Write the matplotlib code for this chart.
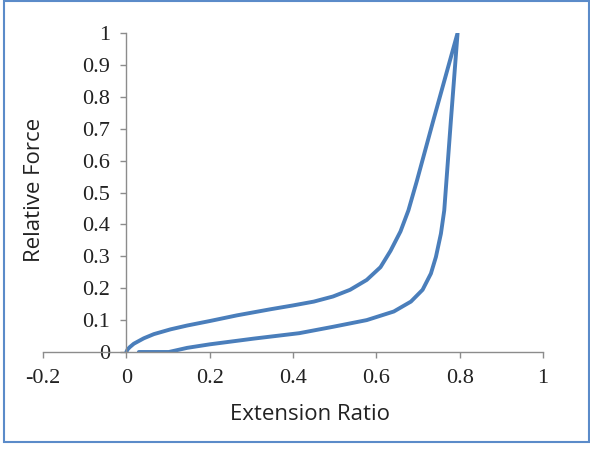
import matplotlib
matplotlib.use("Agg")
import matplotlib.pyplot as plt
from matplotlib.patches import Rectangle

# loop: loading branch up to the peak, then unloading branch back down
extension = [0, 0.003, 0.008, 0.018, 0.042, 0.066, 0.106, 0.146, 0.2, 0.266, 0.346,
             0.4, 0.45, 0.496, 0.537, 0.577, 0.61, 0.634, 0.658, 0.677, 0.697, 0.737,
             0.795,
             0.779, 0.763, 0.755, 0.743, 0.731, 0.711, 0.683, 0.642, 0.577, 0.496,
             0.415, 0.306, 0.2, 0.146, 0.102, 0.03]
force = [0, 0.008, 0.015, 0.026, 0.043, 0.056, 0.071, 0.083, 0.097, 0.115, 0.134,
         0.146, 0.158, 0.174, 0.195, 0.226, 0.266, 0.317, 0.378, 0.444, 0.535, 0.727,
         1.0,
         0.727, 0.444, 0.371, 0.298, 0.246, 0.195, 0.158, 0.127, 0.1, 0.079,
         0.059, 0.042, 0.024, 0.013, 0.0, 0.0]

xticks = [-0.2, 0, 0.2, 0.4, 0.6, 0.8, 1]
yticks = [0, 0.1, 0.2, 0.3, 0.4, 0.5, 0.6, 0.7, 0.8, 0.9, 1]
xlabels = ["-0.2", "0", "0.2", "0.4", "0.6", "0.8", "1"]
ylabels = ["0", "0.1", "0.2", "0.3", "0.4", "0.5", "0.6", "0.7", "0.8", "0.9", "1"]

fig = plt.figure(figsize=(5.9, 4.5), dpi=100)
ax = fig.add_axes([43 / 590, 98 / 450, 500 / 590, 319 / 450])

ax.plot(extension, force, color="#4A7EBB", lw=2.8, solid_joinstyle="round",
        solid_capstyle="round")

ax.set_xlim(-0.2, 1)
ax.set_ylim(0, 1)
ax.set_xticks(xticks)
ax.set_yticks(yticks)
ax.set_xticklabels(xlabels)
ax.set_yticklabels(ylabels)

for s in ["top", "right"]:
    ax.spines[s].set_visible(False)
ax.spines["left"].set_position(("data", 0))
for s in ["left", "bottom"]:
    ax.spines[s].set_color("#8C8C8C")
    ax.spines[s].set_linewidth(1.0)
ax.tick_params(direction="out", length=4.5, width=1.0, color="#8C8C8C",
               labelsize=16, labelcolor="#222222")
ax.tick_params(axis="y", pad=7)
ax.tick_params(axis="x", pad=8)
for lab in ax.get_xticklabels() + ax.get_yticklabels():
    lab.set_family("Liberation Serif")

fig.text(310 / 590, 1 - 414 / 450, "Extension Ratio", ha="center", va="center",
         fontsize=16, family="Open Sans", color="#222222")
fig.text(35 / 590, 1 - 190 / 450, "Relative Force", ha="center", va="center",
         rotation=90, fontsize=16, family="Open Sans", color="#222222")

fig.patches.append(Rectangle((4 / 590, 8 / 450), 585 / 590, 441 / 450,
                             transform=fig.transFigure, fill=False,
                             edgecolor="#5B8BC9", lw=1.5))

fig.savefig("out.png", dpi=100)
